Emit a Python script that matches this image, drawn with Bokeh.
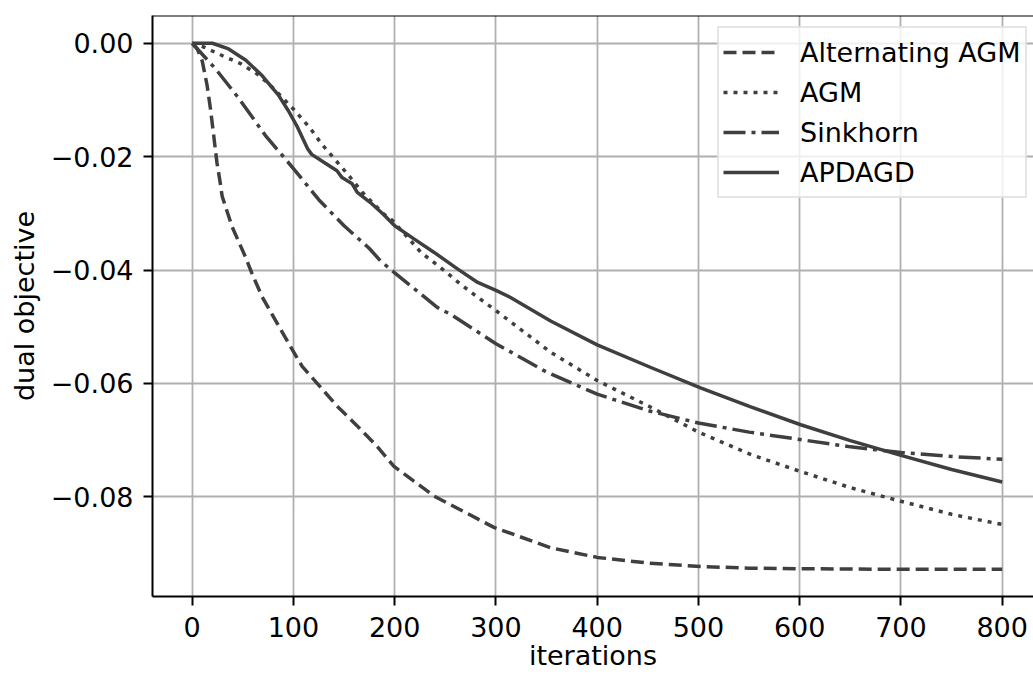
from bokeh.plotting import figure
from bokeh.models import (Range1d, FixedTicker, CustomJSTickFormatter, Legend,
                          LegendItem, Span)
from bokeh.embed import file_html
from bokeh.resources import INLINE

# ---- data ----
alt_iter = [0, 5, 10, 14.7, 18, 21.2, 24.4, 27.6, 29.6, 39.5, 52.6, 59, 69, 82,
            98.7, 108.6, 123, 143, 163, 182.5, 199, 239, 298, 354, 400, 450,
            502, 550, 601, 700, 800]
alt_val = [0.0, -0.001, -0.0032, -0.0074, -0.0115, -0.0162, -0.021, -0.0245,
           -0.027, -0.0324, -0.0377, -0.0406, -0.0447, -0.0488, -0.054, -0.057,
           -0.0599, -0.064, -0.0675, -0.0711, -0.0746, -0.0799, -0.0854,
           -0.089, -0.0907, -0.0917, -0.0923, -0.0926, -0.0927, -0.0928,
           -0.0928]

agm_iter = [0, 12, 30, 48, 64, 76, 88, 100, 117, 128, 142, 155, 168, 183, 189,
            198, 211, 226, 249, 265, 282, 298, 354, 400, 454, 500, 551, 600,
            650, 700, 750, 800]
agm_val = [0.0, -0.0007, -0.0022, -0.0036, -0.0054, -0.0072, -0.0094, -0.0116,
           -0.0151, -0.0178, -0.0207, -0.0234, -0.0263, -0.029, -0.0301,
           -0.0313, -0.0339, -0.0369, -0.0401, -0.0425, -0.0448, -0.0469,
           -0.0545, -0.0595, -0.0643, -0.0686, -0.0725, -0.0755, -0.0784,
           -0.0808, -0.0831, -0.0849]

sink_iter = [0, 23, 46, 72, 100, 125, 150, 175, 186, 200, 242, 255, 300, 350,
             400, 450, 500, 550, 600, 650, 700, 750, 800]
sink_val = [0.0, -0.0045, -0.0097, -0.0162, -0.0221, -0.0276, -0.0322,
            -0.0362, -0.0384, -0.0405, -0.0466, -0.0478, -0.0530, -0.0580,
            -0.0619, -0.0648, -0.0670, -0.0686, -0.0699, -0.0712, -0.0722,
            -0.0729, -0.0734]

apd_iter = [0, 20, 36, 53, 69, 85, 95, 104, 114, 118, 130, 143, 148, 158, 163,
            176, 189, 200, 219, 239, 262, 282, 300, 314, 354, 400, 453, 502,
            551, 601, 650, 700, 750, 800]
apd_val = [0.0, 0.0, -0.001, -0.003, -0.0057, -0.0091, -0.0119, -0.0148,
           -0.0186, -0.0196, -0.021, -0.0225, -0.0237, -0.0248, -0.0263,
           -0.0281, -0.0302, -0.0322, -0.0345, -0.0369, -0.0398, -0.0422,
           -0.0436, -0.0448, -0.049, -0.0532, -0.0572, -0.0608, -0.0641,
           -0.0673, -0.0701, -0.0727, -0.0752, -0.0774]

labels = ["Alternating AGM", "AGM", "Sinkhorn", "APDAGD"]
x_ticks = [0, 100, 200, 300, 400, 500, 600, 700, 800]
y_ticks = [0.0, -0.02, -0.04, -0.06, -0.08]
x_title = "iterations"
y_title = "dual objective"

FONT = "DejaVu Sans"
FS = "27px"
LC = "#3f3f3f"
LW = 3.5

p = figure(width=1033, height=675, output_backend="svg", toolbar_location=None,
           x_range=Range1d(-39.2, 830.9), y_range=Range1d(-0.0976, 0.0049),
           min_border_left=152, min_border_right=0, min_border_top=15,
           min_border_bottom=79)
p.outline_line_color = None
p.background_fill_color = "white"
p.border_fill_color = "white"

for ax in (p.xaxis[0], p.yaxis[0]):
    ax.axis_line_color = "black"
    ax.axis_line_width = 2
    ax.major_tick_line_color = "black"
    ax.major_tick_line_width = 2
    ax.major_tick_out = 9
    ax.major_tick_in = 0
    ax.minor_tick_line_color = None
    ax.major_label_text_font = FONT
    ax.major_label_text_font_size = FS
    ax.major_label_text_color = "black"
    ax.axis_label_text_font = FONT
    ax.axis_label_text_font_size = FS
    ax.axis_label_text_font_style = "normal"
    ax.axis_label_text_color = "black"

p.xaxis.ticker = FixedTicker(ticks=x_ticks)
p.yaxis.ticker = FixedTicker(ticks=y_ticks)
p.xaxis.major_label_standoff = 11
p.yaxis.major_label_standoff = 10
p.xaxis.axis_label = x_title
p.yaxis.axis_label = y_title
p.xaxis.axis_label_standoff = 0
p.yaxis.axis_label_standoff = 8
p.yaxis.formatter = CustomJSTickFormatter(code="""
    if (Math.abs(tick) < 1e-12) { return "0.00"; }
    return (tick < 0 ? "\u2212" : "") + Math.abs(tick).toFixed(2);
""")

p.xgrid.grid_line_color = "#b0b0b0"
p.ygrid.grid_line_color = "#b0b0b0"
p.xgrid.grid_line_width = 1.8
p.ygrid.grid_line_width = 1.8

p.add_layout(Span(location=0.0049, dimension="width", line_color="black",
                  line_width=2))

r1 = p.line(alt_iter, alt_val, line_color=LC, line_width=LW, line_dash="13 6")
r2 = p.line(agm_iter, agm_val, line_color=LC, line_width=LW, line_dash="4 6")
r3 = p.line(sink_iter, sink_val, line_color=LC, line_width=LW,
            line_dash="22 6 4 6")
r4 = p.line(apd_iter, apd_val, line_color=LC, line_width=LW)

legend = Legend(items=[LegendItem(label=labels[0], renderers=[r1]),
                       LegendItem(label=labels[1], renderers=[r2]),
                       LegendItem(label=labels[2], renderers=[r3]),
                       LegendItem(label=labels[3], renderers=[r4])],
                location=(565, 398))
legend.label_text_font = FONT
legend.label_text_font_size = FS
legend.label_text_color = "black"
legend.glyph_width = 56
legend.glyph_height = 40
legend.label_height = 40
legend.label_standoff = 21
legend.spacing = 0
legend.padding = 4
legend.margin = 0
legend.border_line_color = "#cccccc"
legend.border_line_width = 2
legend.background_fill_alpha = 0.8
p.add_layout(legend)

open("out.html", "w").write(file_html(p, INLINE))
